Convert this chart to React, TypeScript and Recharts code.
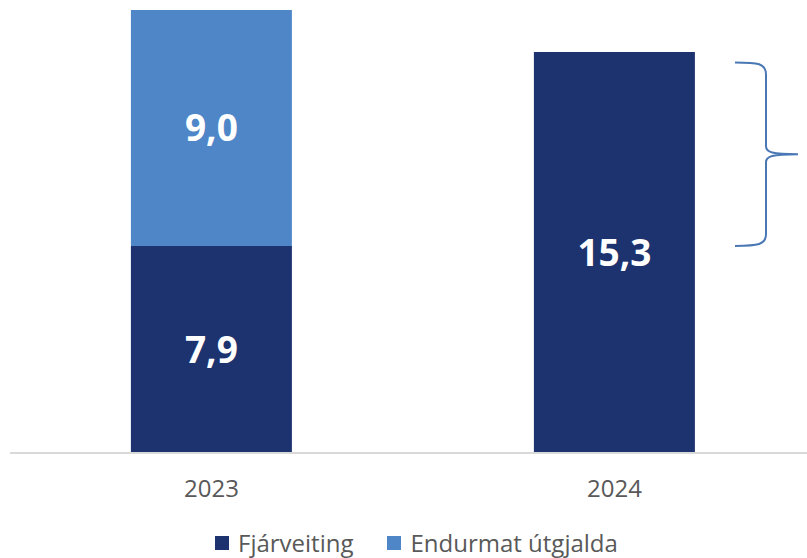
import { Bar, BarChart, LabelList, ReferenceArea, XAxis, YAxis } from "recharts";

const years = ["2023", "2024"];
const fjarveiting = [7.9, 15.3];
const endurmat: (number | null)[] = [9.0, null];
// range covered by the curly brace next to the 2024 bar
const braceRange = [7.9, 14.9];

const DARK = "#1C3370";
const LIGHT = "#4E86C8";
const TEXT = "#595959";
const FONT = "'Open Sans', sans-serif";

const data = years.map((year, i) => ({
  year,
  fjarveiting: fjarveiting[i],
  endurmat: endurmat[i],
}));

const fmt = (v: unknown) =>
  v == null ? "" : Number(v).toFixed(1).replace(".", ",");

function Brace(props: any) {
  const { x, y, width, height } = props;
  const r = x + width;
  const left = r - 81;
  const stem = r - 50;
  const tip = r - 18;
  const top = y;
  const bottom = y + height;
  const mid = y + height / 2;
  const d = [
    `M${left},${top}`,
    `C${stem - 8},${top} ${stem},${top + 1} ${stem},${top + 12}`,
    `L${stem},${mid - 8}`,
    `C${stem},${mid - 2} ${stem + 6},${mid} ${tip},${mid}`,
    `C${stem + 6},${mid} ${stem},${mid + 2} ${stem},${mid + 8}`,
    `L${stem},${bottom - 12}`,
    `C${stem},${bottom - 1} ${stem - 8},${bottom} ${left},${bottom}`,
  ].join(" ");
  return <path d={d} fill="none" stroke="#4A78B5" strokeWidth={2} />;
}

function LegendItem({ color, label }: { color: string; label: string }) {
  return (
    <span style={{ display: "inline-flex", alignItems: "center", marginRight: 34 }}>
      <span
        style={{
          display: "inline-block",
          width: 14,
          height: 14,
          background: color,
          marginRight: 9,
        }}
      />
      {label}
    </span>
  );
}

export default function App() {
  return (
    <div
      style={{
        position: "absolute",
        left: 0,
        top: 0,
        width: 807,
        height: 558,
        overflow: "hidden",
        background: "#fff",
        fontFamily: FONT,
      }}
    >
      <BarChart
        width={820}
        height={558}
        data={data}
        margin={{ top: 10, right: 4, left: 10, bottom: 45 }}
        barCategoryGap="30%"
      >
        <XAxis
          dataKey="year"
          axisLine={{ stroke: "#D9D9D9", strokeWidth: 2 }}
          tickLine={false}
          tickMargin={21}
          height={60}
          tick={{ fontSize: 24, fill: TEXT, fontFamily: FONT }}
        />
        <YAxis hide domain={[0, 16.9]} />
        <ReferenceArea
          y1={braceRange[0]}
          y2={braceRange[1]}
          shape={<Brace />}
          ifOverflow="visible"
        />
        <Bar dataKey="fjarveiting" stackId="a" fill={DARK} isAnimationActive={false}>
          <LabelList
            dataKey="fjarveiting"
            position="center"
            formatter={fmt}
            fill="#fff"
            style={{ fontSize: 37, fontWeight: 700, fontFamily: FONT }}
          />
        </Bar>
        <Bar dataKey="endurmat" stackId="a" fill={LIGHT} isAnimationActive={false}>
          <LabelList
            dataKey="endurmat"
            position="center"
            formatter={fmt}
            fill="#fff"
            style={{ fontSize: 37, fontWeight: 700, fontFamily: FONT }}
          />
        </Bar>
      </BarChart>
      <div
        style={{
          position: "absolute",
          left: 215,
          top: 528,
          fontSize: 24,
          color: TEXT,
          whiteSpace: "nowrap",
          lineHeight: "26px",
        }}
      >
        <LegendItem color={DARK} label="Fjárveiting" />
        <LegendItem color={LIGHT} label="Endurmat útgjalda" />
      </div>
    </div>
  );
}
